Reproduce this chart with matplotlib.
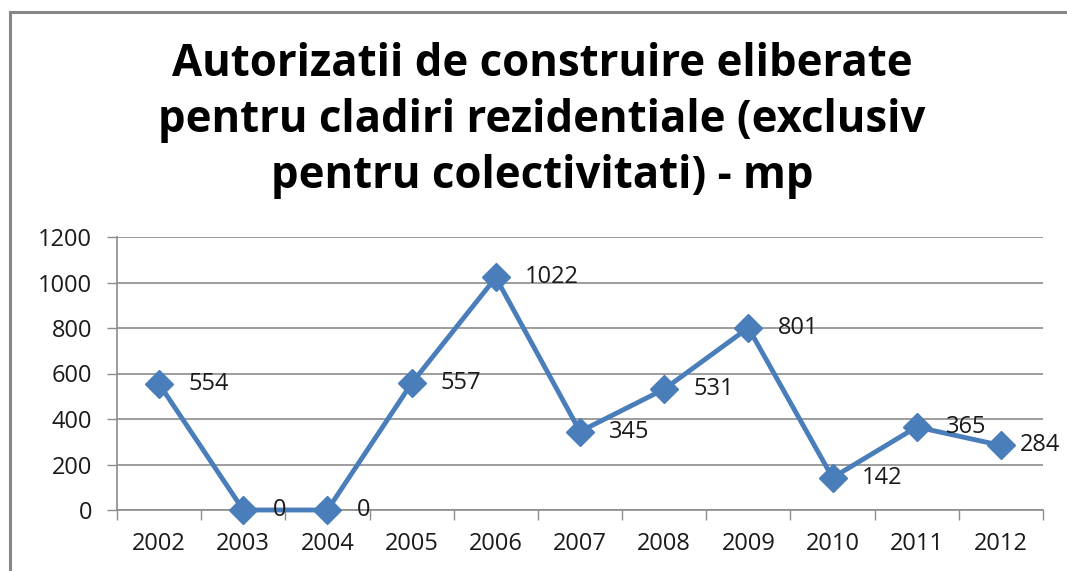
import matplotlib.pyplot as plt
import numpy as np
from matplotlib.patches import Rectangle

years = ["2002", "2003", "2004", "2005", "2006", "2007",
         "2008", "2009", "2010", "2011", "2012"]
values = [554, 0, 0, 557, 1022, 345, 531, 801, 142, 365, 284]
y_ticks = [0, 200, 400, 600, 800, 1000, 1200]

title = ("Autorizatii de construire eliberate\n"
         "pentru cladiri rezidentiale (exclusiv\n"
         "pentru colectivitati) - mp")

plt.rcParams["font.family"] = ["Open Sans", "DejaVu Sans"]

blue = "#4A7EBB"
grid_gray = "#8C8C8C"
text_col = "#1a1a1a"

fig = plt.figure(figsize=(10.67, 5.71), dpi=100)
ax = fig.add_axes([117 / 1067, 1 - 510 / 571, (1043 - 117) / 1067, (510 - 237) / 571])

x = np.arange(len(years))
ax.plot(x, values, color=blue, lw=3.5, marker="D", markersize=14,
        markerfacecolor=blue, markeredgecolor=blue, clip_on=False, zorder=3)

for xi, v in zip(x, values):
    # last label sits closer to its point so it stays inside the frame
    dx = 14 if xi == len(years) - 1 else 21
    ax.annotate(str(v), (xi, v), xytext=(dx, 0), textcoords="offset points",
                ha="left", va="center", fontsize=17, color=text_col,
                annotation_clip=False)

ax.set_xlim(-0.5, len(years) - 0.5)
ax.set_ylim(0, 1200)
ax.set_yticks(y_ticks)
ax.set_yticklabels([str(t) for t in y_ticks])
ax.set_xticks(x)
ax.set_xticklabels(years)
ax.set_xticks(np.arange(-0.5, len(years), 1), minor=True)

ax.tick_params(axis="x", which="major", length=0, pad=16, labelsize=17,
               labelcolor=text_col)
ax.tick_params(axis="x", which="minor", length=7, width=1, color=grid_gray,
               direction="out")
ax.tick_params(axis="y", length=7, width=1, color=grid_gray, pad=11,
               labelsize=17, labelcolor=text_col)

ax.yaxis.grid(True, color=grid_gray, lw=1.2)
ax.set_axisbelow(True)
for side in ("top", "right"):
    ax.spines[side].set_visible(False)
for side in ("left", "bottom"):
    ax.spines[side].set_color(grid_gray)
    ax.spines[side].set_linewidth(1.2)

fig.text(542 / 1067, 1 - 42 / 571, title, ha="center", va="top",
         fontsize=31.5, fontweight="bold", linespacing=1.32, color="black")

# chart frame (runs off the right and bottom edges)
frame = Rectangle((10 / 1067, -0.1), 1.2, 1 - 12 / 571 + 0.1,
                  transform=fig.transFigure, fill=False,
                  edgecolor="#878787", lw=2.2)
fig.patches.append(frame)

fig.savefig("out.png", dpi=100)
